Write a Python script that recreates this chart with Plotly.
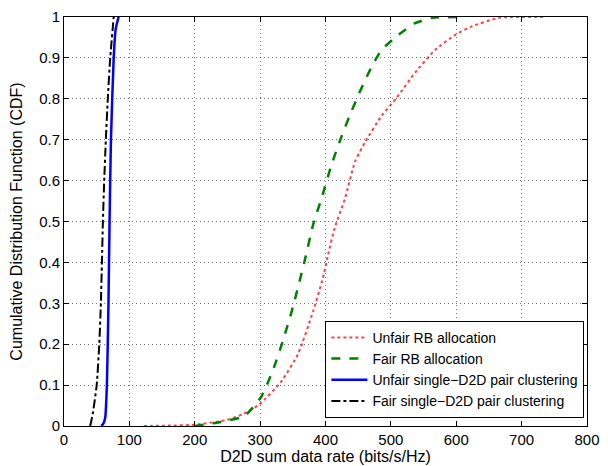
import plotly.graph_objects as go

# Unfair RB allocation (red dotted)
unfair_rb_x = [122, 160, 200, 250, 275, 299, 332, 358, 381, 396, 404, 414, 430, 445, 460.5, 486, 509, 537, 568, 599, 624, 665, 737]
unfair_rb_y = [0, 0.001, 0.003, 0.015, 0.03, 0.053, 0.108, 0.176, 0.28, 0.362, 0.419, 0.484, 0.557, 0.646, 0.694, 0.759, 0.803, 0.864, 0.92, 0.957, 0.977, 0.998, 1.0]

# Fair RB allocation (green dashed)
fair_rb_x = [200, 209, 240, 276, 301.5, 319.5, 335, 350, 368, 381, 394, 409, 425, 437, 453, 471, 486, 512, 537, 563, 609]
fair_rb_y = [0, 0.002, 0.01, 0.024, 0.071, 0.136, 0.209, 0.29, 0.403, 0.492, 0.557, 0.638, 0.71, 0.759, 0.819, 0.88, 0.92, 0.957, 0.985, 0.998, 1.0]

# Unfair single-D2D pair clustering (blue solid)
unfair_single_x = [57, 60, 63, 65.6, 68, 69.7, 71.8, 76, 79, 83.5]
unfair_single_y = [0, 0.005, 0.02, 0.1, 0.3, 0.5, 0.7, 0.9, 0.97, 1.0]

# Fair single-D2D pair clustering (black dash-dot)
fair_single_x = [40, 44, 50, 54, 56.4, 58, 59.5, 61.5, 64, 67, 70.7, 76]
fair_single_y = [0, 0.03, 0.1, 0.2, 0.3, 0.4, 0.5, 0.6, 0.7, 0.8, 0.9, 1.0]

x_ticks = [0, 100, 200, 300, 400, 500, 600, 700, 800]
y_ticks = [0, 0.1, 0.2, 0.3, 0.4, 0.5, 0.6, 0.7, 0.8, 0.9, 1.0]
y_tick_labels = ["0", "0.1", "0.2", "0.3", "0.4", "0.5", "0.6", "0.7", "0.8", "0.9", "1"]

fig = go.Figure()
fig.add_trace(go.Scatter(x=unfair_rb_x, y=unfair_rb_y, mode="lines", name="Unfair RB allocation",
                         line=dict(color="rgba(255,0,0,0.75)", dash="dot", width=2, shape="spline", smoothing=0.5)))
fig.add_trace(go.Scatter(x=fair_rb_x, y=fair_rb_y, mode="lines", name="Fair RB allocation",
                         line=dict(color="#008000", dash="dash", width=2.5, shape="spline", smoothing=0.5)))
fig.add_trace(go.Scatter(x=unfair_single_x, y=unfair_single_y, mode="lines", name="Unfair single\u2212D2D pair clustering",
                         line=dict(color="#0000ff", width=2.5, shape="spline", smoothing=0.5)))
fig.add_trace(go.Scatter(x=fair_single_x, y=fair_single_y, mode="lines", name="Fair single\u2212D2D pair clustering",
                         line=dict(color="black", dash="dashdot", width=2, shape="spline", smoothing=0.5)))

axis_common = dict(showline=True, linecolor="black", linewidth=1, mirror="ticks", ticks="inside",
                   ticklen=5, tickcolor="black", showgrid=True, gridcolor="rgba(0,0,0,0.55)",
                   griddash="1px,3px", gridwidth=1, zeroline=False, automargin=False,
                   ticklabeloverflow="allow",
                   tickfont=dict(size=15, color="black"), title_font=dict(size=16, color="black"))

fig.update_xaxes(range=[0, 800], tickvals=x_ticks, title_text="D2D sum data rate (bits/s/Hz)",
                 title_standoff=2, **axis_common)
fig.update_yaxes(range=[0, 1], tickvals=y_ticks, ticktext=y_tick_labels,
                 title_text="Cumulative Distribution Function (CDF)", title_standoff=19, **axis_common)

# page body has an 8px default margin, so the figure is drawn 8px smaller and offset
fig.update_layout(
    width=600, height=458,
    margin=dict(l=56, r=21, t=9, b=40),
    paper_bgcolor="white", plot_bgcolor="white",
    font=dict(family="Liberation Sans, Arial, sans-serif", color="black"),
    showlegend=True,
    legend=dict(x=0.995, y=0.02, xanchor="right", yanchor="bottom",
                bgcolor="white", bordercolor="black", borderwidth=1,
                font=dict(size=14, color="black"), tracegroupgap=0, itemwidth=36),
)

fig.write_html("out.html")
